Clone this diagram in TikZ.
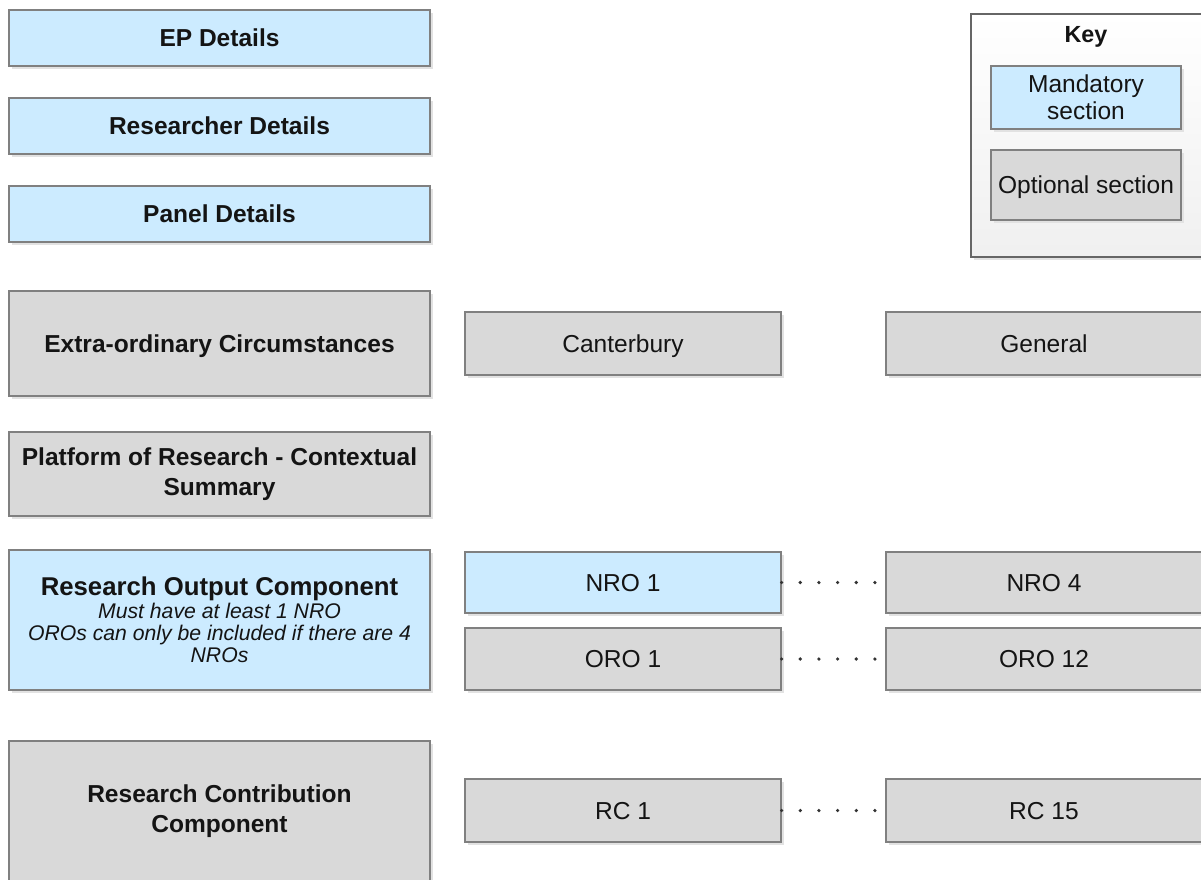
\documentclass[tikz,border=0pt]{standalone}
\usepackage{fontspec}
\setmainfont{Liberation Sans}
\usetikzlibrary{shadows}
\definecolor{mandblue}{RGB}{204,235,255}
\definecolor{optgray}{RGB}{217,217,217}
\definecolor{edgegray}{RGB}{128,128,128}
\definecolor{shadowgray}{RGB}{226,226,226}
\definecolor{textdark}{RGB}{20,20,20}
\tikzset{
  px/.style={x=0.75pt,y=-0.75pt},
  boxbase/.style={draw=edgegray, line width=0.9pt, rectangle, inner sep=2pt, align=center,
    text=textdark, font=\fontsize{18.4}{21.5}\selectfont,
    drop shadow={shadow xshift=2.2pt, shadow yshift=-2.2pt, fill=shadowgray, opacity=1}},
  mandbox/.style={boxbase, fill=mandblue},
  optbox/.style={boxbase, fill=optgray},
  oneline/.style={text height=13.2pt, text depth=0pt},
  boldlabel/.style={font=\fontsize{18.4}{21.5}\selectfont\bfseries},
  dotline/.style={draw=black!80, line width=2.7pt, line cap=round, dash pattern=on 0pt off 14pt},
}
\begin{document}
\begin{tikzpicture}[px]
\useasboundingbox (0,0) rectangle (1201,879);
\clip (0,0) rectangle (1201,879);
\fill[white] (0,0) rectangle (1201,879);

% left column
\node[mandbox, boldlabel, oneline, minimum width=421*0.75pt, minimum height=56*0.75pt] (ep) at (219.5,38) {EP Details};
\node[mandbox, boldlabel, oneline, minimum width=421*0.75pt, minimum height=56*0.75pt] (res) at (219.5,126) {Researcher Details};
\node[mandbox, boldlabel, oneline, minimum width=421*0.75pt, minimum height=56*0.75pt] (panel) at (219.5,214) {Panel Details};
\node[optbox, boldlabel, oneline, minimum width=421*0.75pt, minimum height=105*0.75pt] (extra) at (219.5,343.5) {Extra-ordinary Circumstances};
\node[optbox, font=\fontsize{18.4}{22.5}\selectfont\bfseries, minimum width=421*0.75pt, minimum height=84*0.75pt] (platform) at (219.5,474) {Platform of Research - Contextual\\Summary};
\node[mandbox, font=\fontsize{15.9}{16.8}\selectfont\itshape, minimum width=421*0.75pt, minimum height=140*0.75pt] (rout) at (219.5,620)
  {{\fontsize{19.3}{16.8}\selectfont\bfseries\upshape Research Output Component}\\Must have at least 1 NRO\\OROs can only be included if there are 4\\NROs};
\node[optbox, font=\fontsize{18.4}{22}\selectfont\bfseries, minimum width=421*0.75pt, minimum height=140*0.75pt] (rcc) at (219.5,811) {Research Contribution\\Component};

% middle and right columns
\node[optbox, oneline, minimum width=316*0.75pt, minimum height=63*0.75pt] (cant) at (623,343.5) {Canterbury};
\node[optbox, oneline, minimum width=316*0.75pt, minimum height=63*0.75pt] (gen) at (1044,343.5) {General};
\node[mandbox, oneline, minimum width=316*0.75pt, minimum height=61*0.75pt] (nro1) at (623,582.5) {NRO 1};
\node[optbox, oneline, minimum width=316*0.75pt, minimum height=61*0.75pt] (nro4) at (1044,582.5) {NRO 4};
\node[optbox, oneline, minimum width=316*0.75pt, minimum height=62*0.75pt] (oro1) at (623,659) {ORO 1};
\node[optbox, oneline, minimum width=316*0.75pt, minimum height=62*0.75pt] (oro12) at (1044,659) {ORO 12};
\node[optbox, oneline, minimum width=316*0.75pt, minimum height=63*0.75pt] (rc1) at (623,810.5) {RC 1};
\node[optbox, oneline, minimum width=316*0.75pt, minimum height=63*0.75pt] (rc15) at (1044,810.5) {RC 15};

\draw[dotline] (nro1.east) -- (nro4.west);
\draw[dotline] (oro1.east) -- (oro12.west);
\draw[dotline] (rc1.east) -- (rc15.west);

% key
\node[draw=black!60, line width=0.9pt, rectangle, top color=white, bottom color=black!6,
  minimum width=231*0.75pt, minimum height=243*0.75pt,
  drop shadow={shadow xshift=2.2pt, shadow yshift=-2.2pt, fill=shadowgray, opacity=1}] (key) at (1086.5,135.5) {};
\node[text=textdark, font=\fontsize{17.5}{20}\selectfont\bfseries, text height=12.6pt, text depth=0pt] (keylabel) at (1086,34) {Key};
\node[mandbox, font=\fontsize{18.4}{20.5}\selectfont, minimum width=190*0.75pt, minimum height=63*0.75pt] (mand) at (1086,97.5) {Mandatory\\section};
\node[optbox, oneline, minimum width=190*0.75pt, minimum height=70*0.75pt] (opt) at (1086,185) {Optional section};
\end{tikzpicture}
\end{document}
